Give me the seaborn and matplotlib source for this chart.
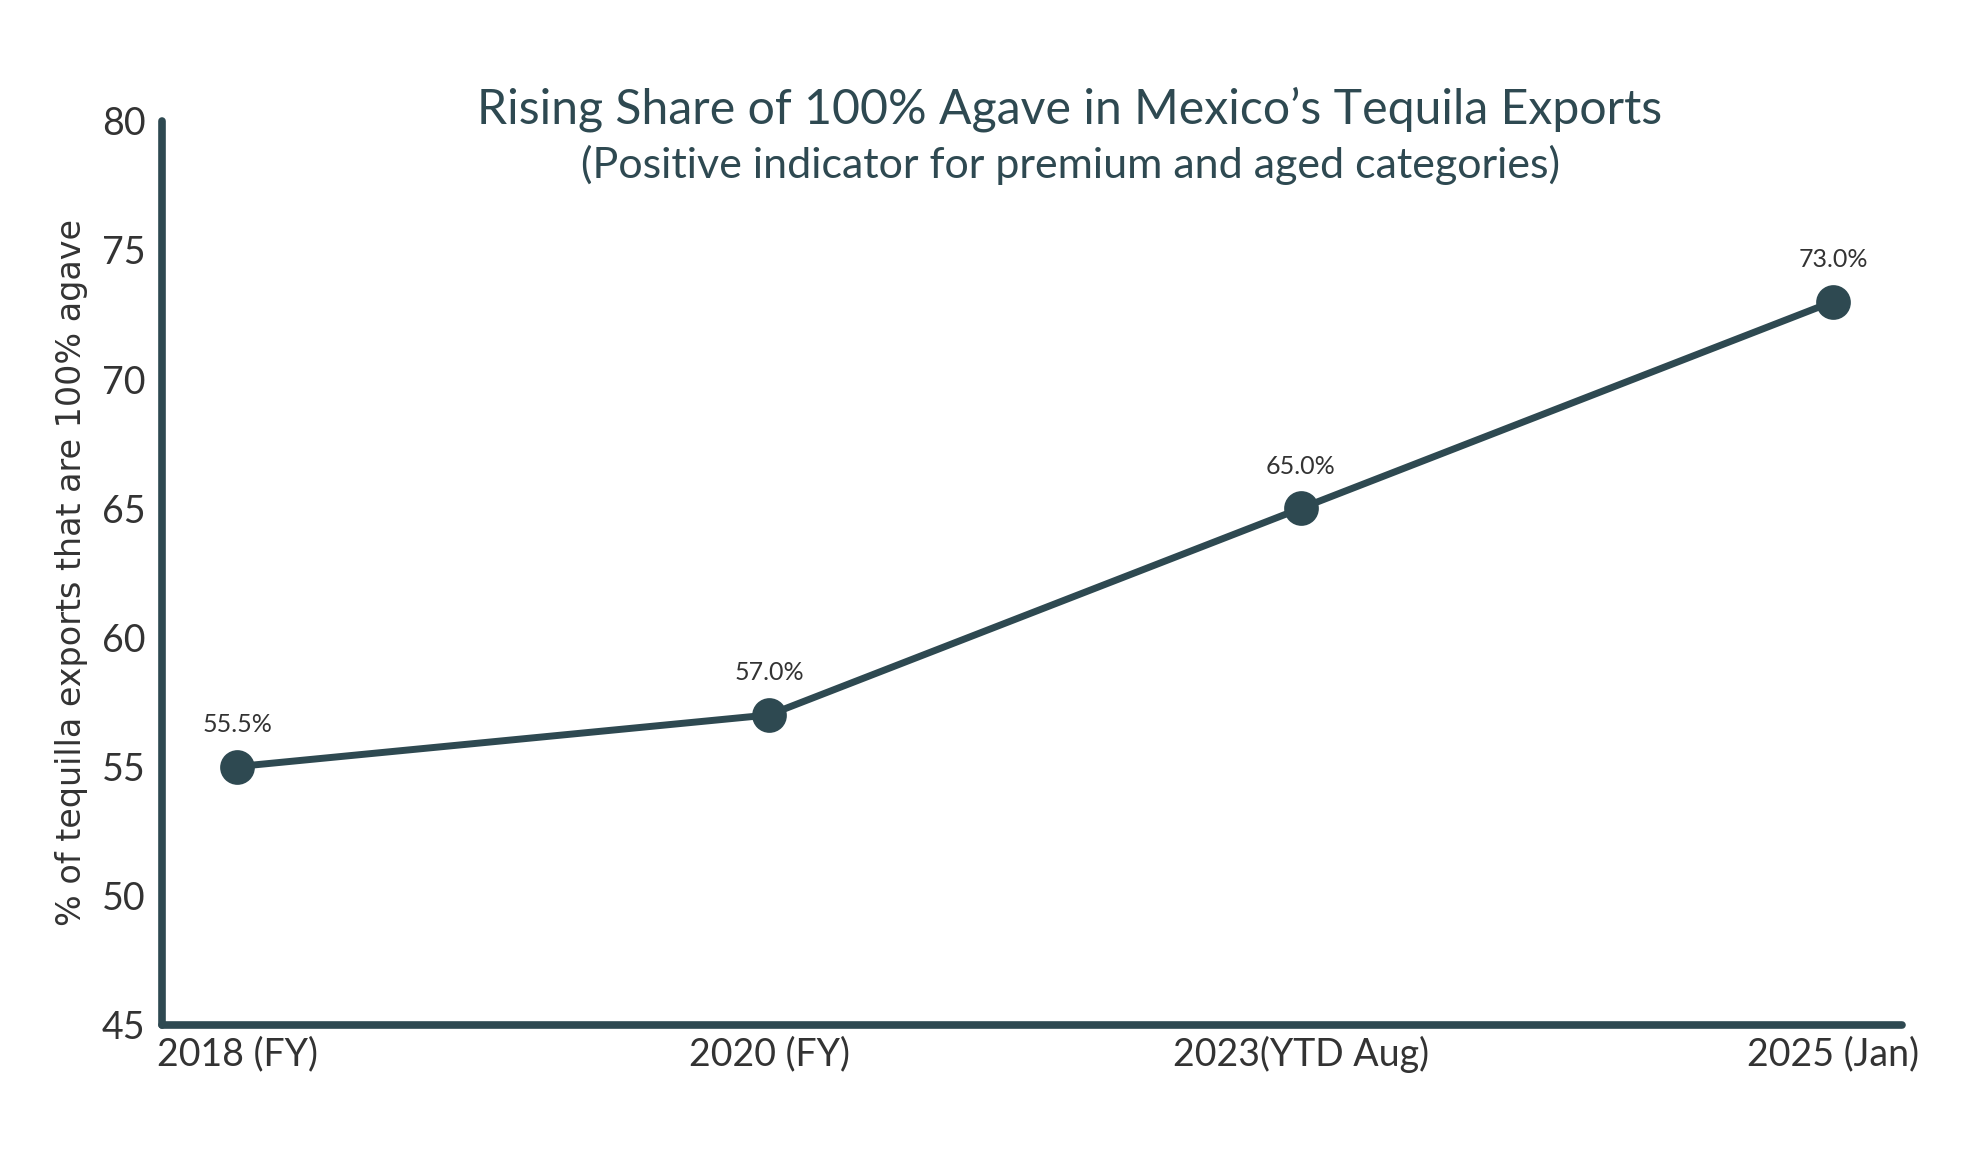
import seaborn as sns
import pandas as pd
import matplotlib.pyplot as plt

# данные с графика
periods = ['2018 (FY)', '2020 (FY)', '2023(YTD Aug)', '2025 (Jan)']
share_values = [55, 57, 65, 73]
point_labels = ['55.5%', '57.0%', '65.0%', '73.0%']
y_ticks = [45, 50, 55, 60, 65, 70, 75, 80]

MAIN = '#2e4951'
TEXT = '#333333'


def main():
    df = pd.DataFrame({'period': periods, 'share': share_values})

    sns.set_style('white')
    plt.rcParams['font.family'] = ['Lato', 'DejaVu Sans']

    fig = plt.figure(figsize=(19.76, 11.62), dpi=100)
    ax = fig.add_axes([0.082, 0.118, 0.8806, 0.778])

    sns.lineplot(data=df, x='period', y='share', sort=False, ax=ax,
                 color=MAIN, linewidth=5, marker='o', markersize=25,
                 markeredgewidth=0)

    # подписи точек
    for i, (v, lab) in enumerate(zip(share_values, point_labels)):
        ax.annotate(lab, (i, v), xytext=(0, 22), textcoords='offset points',
                    ha='center', va='bottom', fontsize=18, color=TEXT)

    ax.set_xlim(-0.141, 3.13)
    ax.set_ylim(45, 80)
    ax.set_yticks(y_ticks)
    ax.tick_params(axis='both', length=0, labelsize=27, colors=TEXT)
    ax.tick_params(axis='y', pad=12)
    ax.tick_params(axis='x', pad=8)
    ax.set_xlabel('')
    ax.set_ylabel('% of tequilla exports that are 100% agave', fontsize=24,
                  color=TEXT, family='DejaVu Sans', labelpad=10)

    sns.despine(ax=ax)
    for side in ['left', 'bottom']:
        ax.spines[side].set_linewidth(5.5)
        ax.spines[side].set_color(MAIN)
        ax.spines[side].set_capstyle('round')

    fig.text(0.5415, 0.894, 'Rising Share of 100% Agave in Mexico\u2019s Tequila Exports',
             ha='center', va='baseline', fontsize=34.7, color=MAIN)
    fig.text(0.5415, 0.847, '(Positive indicator for premium and aged categories)',
             ha='center', va='baseline', fontsize=31, color=MAIN)

    fig.savefig('out.png', dpi=100)


if __name__ == '__main__':
    main()
